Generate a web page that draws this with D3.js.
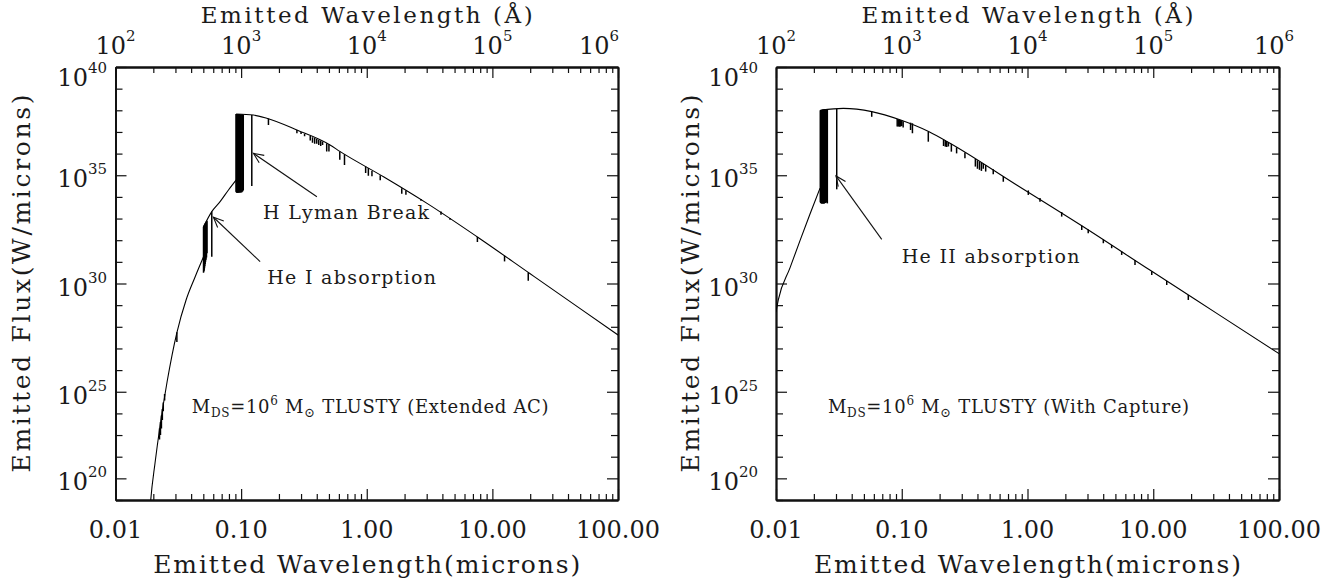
<!DOCTYPE html>
<html>
<head>
<meta charset="utf-8">
<script src="https://cdn.jsdelivr.net/npm/d3@7"></script>
<style>
  body { margin: 0; background: #fff; }
  svg { display: block; }
  text { font-family: "DejaVu Serif", serif; fill: #1a1a1a; }
</style>
</head>
<body>
<svg id="chart" width="1336" height="583"></svg>
<script>
// ---- axis ticks / labels ----
const micronTicks = [0.01, 0.1, 1, 10, 100];
const micronLabels = ["0.01", "0.10", "1.00", "10.00", "100.00"];
const angstromExps = [2, 3, 4, 5, 6];
const fluxLabelExps = [40, 35, 30, 25, 20];
const fluxLabelAt = [40, 35, 30, 25, 21];   // in the picture the "10^20" label sits one decade above the frame

// ---- continuum, [wavelength (micron), log10 flux]; segments break at the absorption edges ----
const leftContinuum = [
  [[0.0188, 19.5], [0.01908, 20.0], [0.02064, 21.71], [0.02262, 23.42], [0.02573, 25.45],
   [0.03074, 27.71], [0.03646, 29.24], [0.0430, 30.30], [0.0501, 31.22]],
  [[0.0502, 32.62], [0.0584, 33.32], [0.0680, 33.78], [0.0793, 34.32], [0.0912, 34.78]],
  [[0.0912, 37.83], [0.1253, 37.78], [0.160, 37.63], [0.278, 37.09], [0.51, 36.40], [0.615, 36.09],
   [1.36, 34.93], [3.02, 33.70], [7.55, 32.16], [20, 30.45], [50, 28.84], [100, 27.62]]
];
const rightContinuum = [
  [[0.0100, 28.68], [0.01043, 29.24], [0.01292, 30.72], [0.01552, 31.98], [0.01864, 33.21], [0.02238, 34.40]],
  [[0.0225, 38.0], [0.0343, 38.09], [0.0578, 37.94], [0.098, 37.55], [0.165, 37.01], [0.242, 36.48],
   [0.82, 34.55], [2.78, 32.62], [9.4, 30.62], [32, 28.62], [100, 26.76]]
];

// ---- absorption lines, [wavelength (micron), log10 top, log10 bottom] ----
const leftLines = [
  [0.0224, 23.3, 22.8], [0.0228, 23.6, 23.0], [0.0232, 23.9, 23.3], [0.0236, 24.2, 23.7],
  [0.0240, 24.5, 24.1], [0.0246, 24.9, 24.6], [0.0308, 27.75, 27.3],
  [0.0502, 32.62, 30.5], [0.0505, 32.65, 30.55], [0.0508, 32.68, 30.6], [0.0511, 32.71, 30.7],
  [0.0514, 32.74, 30.8], [0.0517, 32.77, 30.9], [0.0521, 32.80, 31.0], [0.0525, 32.83, 31.1],
  [0.0530, 32.87, 31.2], [0.0535, 32.90, 31.4], [0.0584, 33.32, 31.24],
  [0.0913, 37.83, 34.24], [0.0917, 37.83, 34.22], [0.0921, 37.83, 34.2], [0.0925, 37.83, 34.2],
  [0.0929, 37.83, 34.2], [0.0933, 37.83, 34.2], [0.0937, 37.82, 34.2], [0.0942, 37.82, 34.2],
  [0.0947, 37.82, 34.2], [0.0953, 37.82, 34.2], [0.0960, 37.82, 34.2], [0.0968, 37.82, 34.2],
  [0.0977, 37.82, 34.2], [0.0988, 37.81, 34.2], [0.1000, 37.81, 34.2], [0.1015, 37.81, 34.22],
  [0.1026, 37.81, 34.25], [0.1040, 37.80, 34.3], [0.1216, 37.78, 34.5],
  [0.165, 37.62, 37.32], [0.278, 37.09, 36.94], [0.30, 37.0, 36.9], [0.32, 36.92, 36.8],
  [0.355, 36.81, 36.6], [0.37, 36.76, 36.5], [0.385, 36.72, 36.45], [0.40, 36.68, 36.45],
  [0.415, 36.64, 36.4], [0.43, 36.6, 36.35], [0.445, 36.56, 36.4], [0.48, 36.48, 36.1],
  [0.50, 36.43, 36.1], [0.61, 36.1, 35.72], [0.665, 35.97, 35.47],
  [0.98, 35.4, 35.1], [1.03, 35.33, 34.98], [1.1, 35.2, 34.95], [1.28, 35.0, 34.77],
  [1.9, 34.4, 34.15], [2.05, 34.3, 34.1], [2.7, 33.9, 33.82], [3.9, 33.32, 33.17],
  [4.6, 33.03, 32.95], [7.6, 32.15, 31.92], [12.5, 31.28, 31.02], [19.3, 30.51, 30.13]
];
const rightLines = [
  [0.0225, 38.0, 33.75], [0.0227, 38.01, 33.72], [0.0229, 38.01, 33.7], [0.0231, 38.02, 33.7],
  [0.0233, 38.02, 33.7], [0.0235, 38.03, 33.7], [0.0237, 38.03, 33.7], [0.0239, 38.04, 33.7],
  [0.0241, 38.04, 33.7], [0.0243, 38.04, 33.7], [0.0245, 38.05, 33.72], [0.0248, 38.05, 33.72],
  [0.0251, 38.05, 33.75], [0.0254, 38.06, 33.75], [0.0256, 38.06, 33.7], [0.0304, 38.07, 34.35],
  [0.0577, 37.94, 37.7], [0.092, 37.6, 37.25], [0.094, 37.58, 37.25], [0.096, 37.56, 37.24],
  [0.098, 37.55, 37.25], [0.100, 37.53, 37.28], [0.1026, 37.5, 37.2], [0.1175, 37.43, 37.09],
  [0.1216, 37.4, 36.94], [0.1626, 37.01, 36.55], [0.215, 36.66, 36.35], [0.222, 36.62, 36.32],
  [0.228, 36.58, 36.3], [0.235, 36.54, 36.33], [0.248, 36.45, 36.09], [0.273, 36.29, 36.01],
  [0.318, 36.05, 35.78], [0.385, 35.75, 35.4], [0.40, 35.69, 35.3], [0.415, 35.63, 35.25],
  [0.43, 35.58, 35.2], [0.445, 35.53, 35.3], [0.465, 35.47, 35.17], [0.534, 35.28, 35.05],
  [0.642, 34.95, 34.7], [1.015, 34.3, 34.09], [1.257, 33.95, 33.78], [1.87, 33.3, 33.09],
  [2.70, 32.67, 32.47], [3.04, 32.49, 32.32], [4.01, 32.03, 31.86], [4.67, 31.78, 31.63],
  [5.61, 31.48, 31.32], [7.16, 31.08, 30.85], [9.73, 30.57, 30.39], [12.8, 30.12, 29.93],
  [19.0, 29.47, 29.24]
];

// ---- annotations, in data coordinates (micron, log10 flux) ----
const leftArrows = [
  { tip: [0.1253, 36.01], tail: [0.401, 34.01], text: "H Lyman Break", at: [0.1496, 32.98] },
  { tip: [0.0602, 33.06], tail: [0.1417, 31.01], text: "He I absorption", at: [0.1611, 29.98] }
];
const rightArrows = [
  { tip: [0.0300, 34.97], tail: [0.0693, 32.04], text: "He II absorption", at: [0.0999, 30.96] }
];
const leftModel = { at: [0.0405, 24.02], tail: " TLUSTY (Extended AC)" };
const rightModel = { at: [0.02588, 24.02], tail: " TLUSTY (With Capture)" };

// ---- layout ----
const TOP = 67, BOTTOM = 500;
const panels = [
  { left: 115.5, right: 618, labelX: 107, titleX: 21, top6Shift: -19,
    continuum: leftContinuum, lines: leftLines, arrows: leftArrows, model: leftModel },
  { left: 776, right: 1279, labelX: 758, titleX: 690, top6Shift: -5,
    continuum: rightContinuum, lines: rightLines, arrows: rightArrows, model: rightModel }
];

const svg = d3.select("#chart");

panels.forEach((p, pi) => {
  const x = d3.scaleLog().domain([0.01, 100]).range([p.left, p.right]);
  const xA = d3.scaleLog().domain([1e2, 1e6]).range([p.left, p.right]);
  const y = d3.scaleLog().domain([1e20, 1e40]).range([BOTTOM, TOP]);
  const g = svg.append("g");

  const clipId = "clip" + pi;
  svg.append("clipPath").attr("id", clipId).append("rect")
    .attr("x", p.left).attr("y", TOP).attr("width", p.right - p.left).attr("height", BOTTOM - TOP);

  // minor + major ticks, all pointing into the frame
  const minorX = x.ticks().filter(v => !micronTicks.some(m => Math.abs(m / v - 1) < 1e-6));
  const minorA = xA.ticks().filter(v => !angstromExps.some(e => Math.abs(10 ** e / v - 1) < 1e-6));
  const minorY = y.ticks(20).filter(v => !fluxLabelAt.some(e => Math.abs(10 ** e / v - 1) < 1e-6));
  const majorY = fluxLabelAt.map(e => 10 ** e);

  const axes = [
    [d3.axisBottom(x).tickValues(minorX).tickSize(-6), `translate(0,${BOTTOM})`],
    [d3.axisBottom(x).tickValues(micronTicks).tickSize(-11), `translate(0,${BOTTOM})`],
    [d3.axisTop(xA).tickValues(minorA).tickSize(-6), `translate(0,${TOP})`],
    [d3.axisTop(xA).tickValues(angstromExps.map(e => 10 ** e)).tickSize(-11), `translate(0,${TOP})`],
    [d3.axisLeft(y).tickValues(minorY).tickSize(-7), `translate(${p.left},0)`],
    [d3.axisLeft(y).tickValues(majorY).tickSize(-11), `translate(${p.left},0)`],
    [d3.axisRight(y).tickValues(minorY).tickSize(-7), `translate(${p.right},0)`],
    [d3.axisRight(y).tickValues(majorY).tickSize(-11), `translate(${p.right},0)`]
  ];
  axes.forEach(([ax, tr]) => {
    const a = g.append("g").attr("transform", tr)
      .call(ax.tickSizeOuter(0).tickFormat(""));
    a.selectAll(".tick line").attr("stroke", "#111").attr("stroke-width", 1.2);
    a.select(".domain").attr("stroke", "#111").attr("stroke-width", 1.8);
  });

  // bottom tick labels
  g.selectAll("text.xl").data(micronTicks).join("text").attr("class", "xl")
    .attr("x", d => x(d)).attr("y", 538).attr("text-anchor", "middle")
    .attr("font-size", 24).text((d, i) => micronLabels[i]);

  // top tick labels 10^n
  angstromExps.forEach((e, i) => {
    const t = g.append("text")
      .attr("x", xA(10 ** e) + (i === angstromExps.length - 1 ? p.top6Shift : 0))
      .attr("y", 54).attr("text-anchor", "middle").attr("font-size", 24);
    t.append("tspan").text("10");
    t.append("tspan").attr("dy", -13).attr("font-size", 15).text(e);
  });

  // left tick labels 10^n
  fluxLabelExps.forEach((e, i) => {
    const yy = Math.max(y(10 ** fluxLabelAt[i]) + 12, TOP + 19);
    const t = g.append("text").attr("x", p.labelX).attr("y", yy)
      .attr("text-anchor", "end").attr("font-size", 24);
    t.append("tspan").text("10");
    t.append("tspan").attr("dy", -13).attr("font-size", 15).text(e);
  });

  // axis titles
  const cx = (p.left + p.right) / 2;
  g.append("text").attr("x", cx).attr("y", 23).attr("text-anchor", "middle")
    .attr("font-size", 23).attr("textLength", 332).attr("lengthAdjust", "spacing")
    .text("Emitted Wavelength (Å)");
  g.append("text").attr("x", cx).attr("y", 573).attr("text-anchor", "middle")
    .attr("font-size", 25).attr("textLength", 427).attr("lengthAdjust", "spacing")
    .text("Emitted Wavelength(microns)");
  g.append("text").attr("transform", `translate(${p.titleX + 9},${(TOP + BOTTOM) / 2}) rotate(-90)`)
    .attr("text-anchor", "middle").attr("font-size", 25)
    .attr("textLength", 378).attr("lengthAdjust", "spacing")
    .text("Emitted Flux(W/microns)");

  // spectrum
  const plot = g.append("g").attr("clip-path", `url(#${clipId})`);
  const line = d3.line().x(d => x(d[0])).y(d => y(10 ** d[1])).curve(d3.curveMonotoneX);
  plot.selectAll("path.cont").data(p.continuum).join("path").attr("class", "cont")
    .attr("d", line).attr("fill", "none").attr("stroke", "#000").attr("stroke-width", 1.1);
  plot.selectAll("line.abs").data(p.lines).join("line").attr("class", "abs")
    .attr("x1", d => x(d[0])).attr("x2", d => x(d[0]))
    .attr("y1", d => y(10 ** d[1])).attr("y2", d => y(10 ** d[2]))
    .attr("stroke", "#000").attr("stroke-width", 1.5);

  // arrows + labels
  p.arrows.forEach(a => {
    const x1 = x(a.tail[0]), y1 = y(10 ** a.tail[1]);
    const x2 = x(a.tip[0]), y2 = y(10 ** a.tip[1]);
    const ang = Math.atan2(y1 - y2, x1 - x2), L = 11, spread = 0.42;
    g.append("line").attr("x1", x1).attr("y1", y1).attr("x2", x2).attr("y2", y2)
      .attr("stroke", "#111").attr("stroke-width", 1.1);
    g.append("path")
      .attr("d", `M${x2 + L * Math.cos(ang + spread)},${y2 + L * Math.sin(ang + spread)}L${x2},${y2}L${x2 + L * Math.cos(ang - spread)},${y2 + L * Math.sin(ang - spread)}`)
      .attr("fill", "none").attr("stroke", "#111").attr("stroke-width", 1.1);
    g.append("text").attr("x", x(a.at[0])).attr("y", y(10 ** a.at[1]))
      .attr("font-size", 19).attr("letter-spacing", 1.3).text(a.text);
  });

  // model label: M_DS = 10^6 M_sun TLUSTY (...)
  const m = g.append("text").attr("x", x(p.model.at[0])).attr("y", y(10 ** p.model.at[1]))
    .attr("font-size", 18).attr("letter-spacing", 0.7);
  m.append("tspan").text("M");
  m.append("tspan").attr("dy", 4).attr("font-size", 12).text("DS");
  m.append("tspan").attr("dy", -4).text("=10");
  m.append("tspan").attr("dy", -8).attr("font-size", 12).text("6");
  m.append("tspan").attr("dy", 8).text(" M");
  m.append("tspan").attr("dy", 4).attr("font-size", 13).text("\u2299");
  m.append("tspan").attr("dy", -4).text(p.model.tail);
});
</script>
</body>
</html>
